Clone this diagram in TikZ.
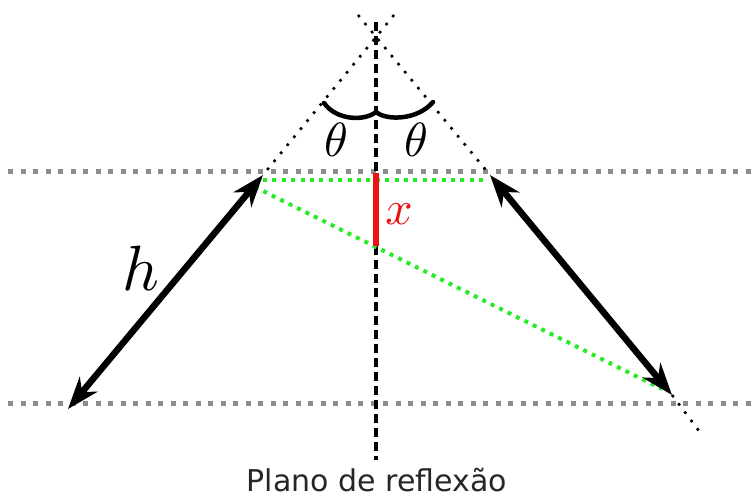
\documentclass[tikz,border=0pt]{standalone}
\usepackage{graphicx}
\usepackage{fontspec}
\setsansfont{DejaVu Sans}
\usetikzlibrary{arrows.meta}
\definecolor{mygreen}{RGB}{40,235,40}
\definecolor{mygray}{RGB}{140,140,140}
\definecolor{myred}{RGB}{235,20,20}
\begin{document}
\begin{tikzpicture}[x=1pt,y=-1pt,
  graydash/.style={draw=mygray, line width=5pt, dash pattern=on 5pt off 7.5pt},
  blackdot/.style={draw=black, line width=2.6pt, dash pattern=on 2.6pt off 7.8pt},
  greendot/.style={draw=mygreen, line width=4pt, dash pattern=on 4pt off 5.4pt},
  vdash/.style={draw=black, line width=4pt, dash pattern=on 9pt off 5pt},
  bigarrow/.style={draw=black, line width=6.5pt,
    {Stealth[length=32pt,width=23pt,inset=10pt]}-{Stealth[length=32pt,width=23pt,inset=10pt]}},
  bracestyle/.style={draw=black, line width=4.5pt, line cap=round},
  redline/.style={draw=myred, line width=6pt},
  mathlbl/.style={inner sep=0pt}
]
\useasboundingbox (0,0) rectangle (756,497);
% coordinates
\coordinate (A) at (376,37);
\coordinate (Ltop) at (394,15);
\coordinate (Rtop) at (358,15);
\coordinate (LT) at (263,175);
\coordinate (LB) at (68,409);
\coordinate (RT) at (490,175);
\coordinate (RB) at (672,395);
\coordinate (Rend) at (699,431);
\coordinate (g1l) at (8,172);
\coordinate (g1r) at (756,172);
\coordinate (g2l) at (8,404);
\coordinate (g2r) at (756,404);
\coordinate (V1) at (376,22);
\coordinate (V2) at (376,460);
\coordinate (H1) at (263,180);
\coordinate (H2) at (486,180);
\coordinate (D1) at (255,187);
\coordinate (D2) at (662,389);
\coordinate (R1) at (376,173);
\coordinate (R2) at (376,246);
\coordinate (b1) at (324,103);
\coordinate (bm) at (376,112);
\coordinate (b2) at (433,102);
% gray guide lines
\draw[graydash] (g1l) -- (g1r);
\draw[graydash] (g2l) -- (g2r);
% thin dotted rays
\draw[blackdot] (Ltop) -- (LT);
\draw[blackdot] (Rtop) -- (RT);
\draw[blackdot] (RB) -- (Rend);
% plane
\draw[vdash] (V1) -- (V2);
% green construction lines
\draw[greendot] (H1) -- (H2);
\draw[greendot] (D1) -- (D2);
% red segment
\draw[redline] (R1) -- (R2);
% arrows
\draw[bigarrow] (LT) -- (LB);
\draw[bigarrow] (RT) -- (RB);
% brace
\draw[bracestyle] (b1) .. controls (337,121) and (365,121) .. (bm) .. controls (387,121) and (418,120) .. (b2);
% labels
\node[mathlbl] (th1) at (336,140) {\scalebox{4.8}{$\theta$}};
\node[mathlbl] (th2) at (416,140) {\scalebox{4.8}{$\theta$}};
\node[mathlbl] (hl) at (141,268) {\scalebox{6.4}{$h$}};
\node[mathlbl, text=myred] (xl) at (399,214) {\scalebox{4.8}{$x$}};
\node[font=\sffamily\fontsize{30}{30}\selectfont, text=black!85, anchor=base, inner sep=0pt] (lbl) at (377,491) {Plano de reflexão};
\end{tikzpicture}
\end{document}
